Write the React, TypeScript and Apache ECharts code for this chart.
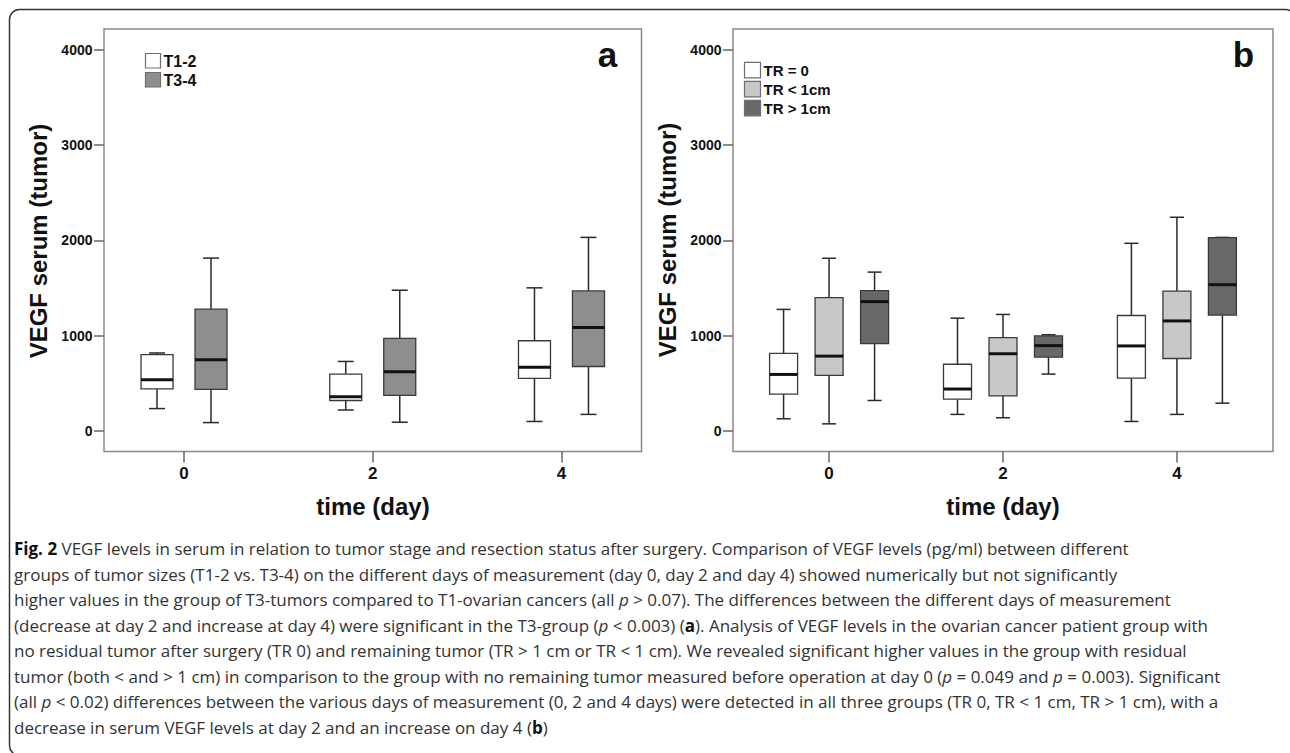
import React, { useEffect, useRef } from "react";
import * as echarts from "echarts";

// ---------- data ----------
const days = [0, 2, 4];
const xTickLabels = ["0", "2", "4"];
const yTicks = [0, 1000, 2000, 3000, 4000];
const yTickLabels = ["0", "1000", "2000", "3000", "4000"];

// [min, Q1, median, Q3, max] per day (0, 2, 4)
const groupsA = ["T1-2", "T3-4"];
const t12 = [
  [235, 441, 537, 800, 818],
  [220, 320, 359, 597, 729],
  [100, 551, 668, 946, 1501],
];
const t34 = [
  [88, 437, 747, 1277, 1813],
  [92, 373, 622, 971, 1476],
  [174, 676, 1085, 1469, 2030],
];

const groupsB = ["TR = 0", "TR < 1cm", "TR > 1cm"];
const tr0 = [
  [128, 387, 593, 813, 1275],
  [174, 334, 440, 700, 1183],
  [100, 554, 892, 1211, 1968],
];
const trLt1 = [
  [75, 583, 785, 1399, 1811],
  [139, 369, 810, 980, 1222],
  [174, 760, 1154, 1467, 2241],
];
const trGt1 = [
  [320, 916, 1357, 1471, 1666],
  [597, 774, 895, 998, 1009],
  [292, 1215, 1534, 2028, 2030],
];

const captionLines = [
  "{b|Fig. 2} VEGF levels in serum in relation to tumor stage and resection status after surgery. Comparison of VEGF levels (pg/ml) between different",
  "groups of tumor sizes (T1-2 vs. T3-4) on the different days of measurement (day 0, day 2 and day 4) showed numerically but not significantly",
  "higher values in the group of T3-tumors compared to T1-ovarian cancers (all {i|p} > 0.07). The differences between the different days of measurement",
  "(decrease at day 2 and increase at day 4) were significant in the T3-group ({i|p} < 0.003) ({b|a}). Analysis of VEGF levels in the ovarian cancer patient group with",
  "no residual tumor after surgery (TR 0) and remaining tumor (TR > 1 cm or TR < 1 cm). We revealed significant higher values in the group with residual",
  "tumor (both < and > 1 cm) in comparison to the group with no remaining tumor measured before operation at day 0 ({i|p} = 0.049 and {i|p} = 0.003). Significant",
  "(all {i|p} < 0.02) differences between the various days of measurement (0, 2 and 4 days) were detected in all three groups (TR 0, TR < 1 cm, TR > 1 cm), with a",
  "decrease in serum VEGF levels at day 2 and an increase on day 4 ({b|b})",
];

// ---------- styles ----------
const FRAME = "#8a8a8a";
const AX_FONT = "'Liberation Sans', Arial, sans-serif";
const NARROW = "'Liberation Sans Narrow', 'Arial Narrow', 'Liberation Sans', sans-serif";
const CAP_FONT = "'Open Sans', 'Noto Sans', sans-serif";
const fillsA = ["#ffffff", "#8e8e8e"];
const fillsB = ["#ffffff", "#c8c8c8", "#686868"];

function makeRender(offset: number, bw: number, fill: string) {
  return (params: any, api: any) => {
    const d = api.value(0);
    const pts = [1, 2, 3, 4, 5].map((k) => api.coord([d, api.value(k)]));
    const cx = pts[0][0] + offset;
    const [yMin, yQ1, yMed, yQ3, yMax] = pts.map((p: number[]) => p[1]);
    const cw = bw / 2;
    const ws = { stroke: "#2a2a2a", lineWidth: 1.5 };
    return {
      type: "group",
      children: [
        { type: "line", shape: { x1: cx, y1: yMax, x2: cx, y2: yQ3 }, style: ws },
        { type: "line", shape: { x1: cx, y1: yQ1, x2: cx, y2: yMin }, style: ws },
        { type: "line", shape: { x1: cx - cw / 2, y1: yMax, x2: cx + cw / 2, y2: yMax }, style: ws },
        { type: "line", shape: { x1: cx - cw / 2, y1: yMin, x2: cx + cw / 2, y2: yMin }, style: ws },
        {
          type: "rect",
          shape: { x: cx - bw / 2, y: yQ3, width: bw, height: yQ1 - yQ3 },
          style: { fill, stroke: "#3a3a3a", lineWidth: 1.3 },
        },
        {
          type: "line",
          shape: { x1: cx - bw / 2, y1: yMed, x2: cx + bw / 2, y2: yMed },
          style: { stroke: "#111", lineWidth: 3 },
        },
      ],
    };
  };
}

function toData(arr: number[][]) {
  return arr.map((v, i) => [days[i], ...v]);
}

function xAxisCfg(gridIndex: number, min: number, max: number) {
  return {
    type: "value",
    gridIndex,
    min,
    max,
    axisLine: { show: false, onZero: false },
    splitLine: { show: false },
    axisTick: { show: true, customValues: days, length: 11, lineStyle: { color: "#666", width: 1.5 } },
    axisLabel: {
      customValues: days,
      margin: 13,
      fontSize: 17,
      fontWeight: "bold",
      color: "#111",
      fontFamily: AX_FONT,
      formatter: (v: number) => xTickLabels[days.indexOf(v)] ?? "",
    },
  };
}

function yAxisCfg(gridIndex: number) {
  return {
    type: "value",
    gridIndex,
    min: -215,
    max: 4215,
    axisLine: { show: false, onZero: false },
    splitLine: { show: false },
    axisTick: { show: true, customValues: yTicks, length: 10, lineStyle: { color: "#666", width: 1.5 } },
    axisLabel: {
      customValues: yTicks,
      margin: 11.5,
      fontSize: 14,
      fontWeight: "bold",
      color: "#111",
      fontFamily: AX_FONT,
      formatter: (v: number) => yTickLabels[yTicks.indexOf(v)] ?? "",
    },
  };
}

function legendItems(x: number, y0: number, step: number, size: number, names: string[], fills: string[], font: any) {
  const out: any[] = [];
  names.forEach((n, i) => {
    out.push({
      type: "rect",
      shape: { x, y: y0 + i * step, width: size, height: size - 0.5 },
      style: { fill: fills[i], stroke: "#6e6e6e", lineWidth: 1.2 },
    });
    out.push({
      type: "text",
      x: x + size + 3,
      y: y0 + i * step + size / 2,
      style: { text: n, fill: "#111", align: "left", verticalAlign: "middle", ...font },
    });
  });
  return out;
}

export default function App() {
  const ref = useRef<HTMLDivElement>(null);
  useEffect(() => {
    if (!ref.current) return;
    const chart = echarts.init(ref.current, undefined, { renderer: "svg" });

    const captionGraphics = captionLines.map((line, i) => ({
      type: "text",
      x: 14,
      y: 548.5 + i * 25.5,
      style: {
        text: line,
        fill: "#333",
        font: `17px ${CAP_FONT}`,
        fontFamily: CAP_FONT,
        fontSize: 17,
        align: "left",
        verticalAlign: "middle",
        rich: {
          b: { fontWeight: "bold", fill: "#111", fontSize: 17, fontFamily: CAP_FONT },
          i: { fontStyle: "italic", fontSize: 17, fontFamily: CAP_FONT, fill: "#333" },
        },
      },
    }));

    const option: any = {
      animation: false,
      grid: [
        { left: 104, top: 29, width: 537.5, height: 422.5, show: true, borderColor: FRAME, borderWidth: 1.5, backgroundColor: "transparent" },
        { left: 733, top: 29, width: 540, height: 422.5, show: true, borderColor: FRAME, borderWidth: 1.5, backgroundColor: "transparent" },
      ],
      xAxis: [xAxisCfg(0, -0.848, 4.848), xAxisCfg(1, -1.105, 5.105)],
      yAxis: [yAxisCfg(0), yAxisCfg(1)],
      series: [
        { type: "custom", name: groupsA[0], xAxisIndex: 0, yAxisIndex: 0, data: toData(t12), renderItem: makeRender(-27, 32, fillsA[0]), encode: { x: 0, y: [1, 2, 3, 4, 5] } },
        { type: "custom", name: groupsA[1], xAxisIndex: 0, yAxisIndex: 0, data: toData(t34), renderItem: makeRender(27, 32, fillsA[1]), encode: { x: 0, y: [1, 2, 3, 4, 5] } },
        { type: "custom", name: groupsB[0], xAxisIndex: 1, yAxisIndex: 1, data: toData(tr0), renderItem: makeRender(-45.5, 28, fillsB[0]), encode: { x: 0, y: [1, 2, 3, 4, 5] } },
        { type: "custom", name: groupsB[1], xAxisIndex: 1, yAxisIndex: 1, data: toData(trLt1), renderItem: makeRender(0, 28, fillsB[1]), encode: { x: 0, y: [1, 2, 3, 4, 5] } },
        { type: "custom", name: groupsB[2], xAxisIndex: 1, yAxisIndex: 1, data: toData(trGt1), renderItem: makeRender(45.5, 28, fillsB[2]), encode: { x: 0, y: [1, 2, 3, 4, 5] } },
      ],
      graphic: [
        // outer figure frame
        {
          type: "rect",
          shape: { x: 9.5, y: 9.5, width: 1286, height: 746, r: 10 },
          style: { fill: "none", stroke: "#333", lineWidth: 1.5 },
          silent: true,
        },
        // axis titles
        {
          type: "text",
          x: 38.5,
          y: 241,
          rotation: Math.PI / 2,
          style: { text: "VEGF serum (tumor)", font: `bold 24px ${AX_FONT}`, fill: "#111", align: "center", verticalAlign: "middle" },
        },
        {
          type: "text",
          x: 667,
          y: 240,
          rotation: Math.PI / 2,
          style: { text: "VEGF serum (tumor)", font: `bold 24px ${AX_FONT}`, fill: "#111", align: "center", verticalAlign: "middle" },
        },
        {
          type: "text",
          x: 373,
          y: 506.7,
          style: { text: "time (day)", font: `bold 24px ${AX_FONT}`, fill: "#111", align: "center", verticalAlign: "middle" },
        },
        {
          type: "text",
          x: 1003,
          y: 506.7,
          style: { text: "time (day)", font: `bold 24px ${AX_FONT}`, fill: "#111", align: "center", verticalAlign: "middle" },
        },
        // panel letters
        { type: "text", x: 607.5, y: 54, style: { text: "a", font: `bold 35px ${AX_FONT}`, fill: "#111", align: "center", verticalAlign: "middle" } },
        { type: "text", x: 1243.5, y: 54, style: { text: "b", font: `bold 35px ${AX_FONT}`, fill: "#111", align: "center", verticalAlign: "middle" } },
        // legends
        ...legendItems(145.5, 53.5, 19, 15, groupsA, fillsA, { font: `bold 16px ${NARROW}` }),
        ...legendItems(744.5, 62.3, 19, 16, groupsB, fillsB, { font: `bold 15px ${AX_FONT}` }),
        // caption
        ...captionGraphics,
      ],
    };
    chart.setOption(option);
    return () => chart.dispose();
  }, []);
  return (
    <div
      ref={ref}
      style={{ position: "fixed", left: 0, top: 0, width: 1290, height: 753, background: "#fff" }}
    />
  );
}
